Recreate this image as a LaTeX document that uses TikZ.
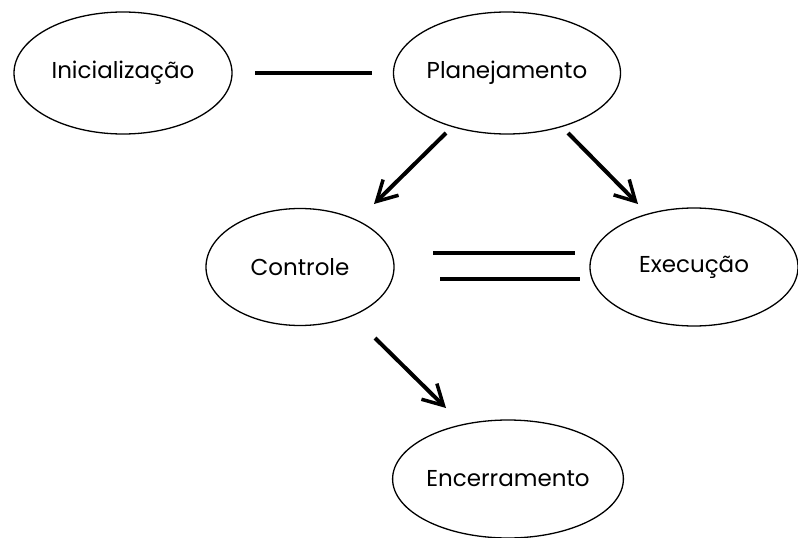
\documentclass[tikz,border=0pt]{standalone}
\usepackage{fontspec}
\setmainfont{Poppins}
\usetikzlibrary{shapes.geometric,arrows.meta}
\begin{document}
\begin{tikzpicture}[x=1pt,y=-1pt,
  phase/.style={ellipse,draw,line width=1.3pt,inner sep=0pt,font=\fontsize{23}{26}\selectfont},
  link/.style={line width=4pt},
  flow/.style={line width=4pt,-{Straight Barb[length=20pt,width=22pt,line width=3.5pt]}}]
\useasboundingbox (0,0) rectangle (798,538);
\fill[white] (0,0) rectangle (798,538);
% phases of the project
\node[phase,minimum width=218pt,minimum height=122pt] (ini) at (123,73) {Inicialização};
\node[phase,minimum width=216pt,minimum height=122pt] (pla) at (507,73) {Planejamento};
\node[phase,minimum width=188pt,minimum height=117pt] (con) at (300,267) {Controle};
\node[phase,minimum width=208pt,minimum height=118pt] (exe) at (694,267) {Execução};
\node[phase,minimum width=218pt,minimum height=118pt] (enc) at (508,479) {Encerramento};
% free ends of the connectors
\coordinate (a1) at (255,73);   \coordinate (a2) at (372,73);
\coordinate (b1) at (446,133);  \coordinate (b2) at (374,204);
\coordinate (c1) at (568,133);  \coordinate (c2) at (638,204);
\coordinate (d1) at (433,253);  \coordinate (d2) at (575,253);
\coordinate (e1) at (440,279);  \coordinate (e2) at (580,279);
\coordinate (f1) at (375,338);  \coordinate (f2) at (446,408);
% connectors
\draw[link] (a1) -- (a2);
\draw[flow] (b1) -- (b2);
\draw[flow] (c1) -- (c2);
\draw[link] (d1) -- (d2);
\draw[link] (e1) -- (e2);
\draw[flow] (f1) -- (f2);
\end{tikzpicture}
\end{document}
